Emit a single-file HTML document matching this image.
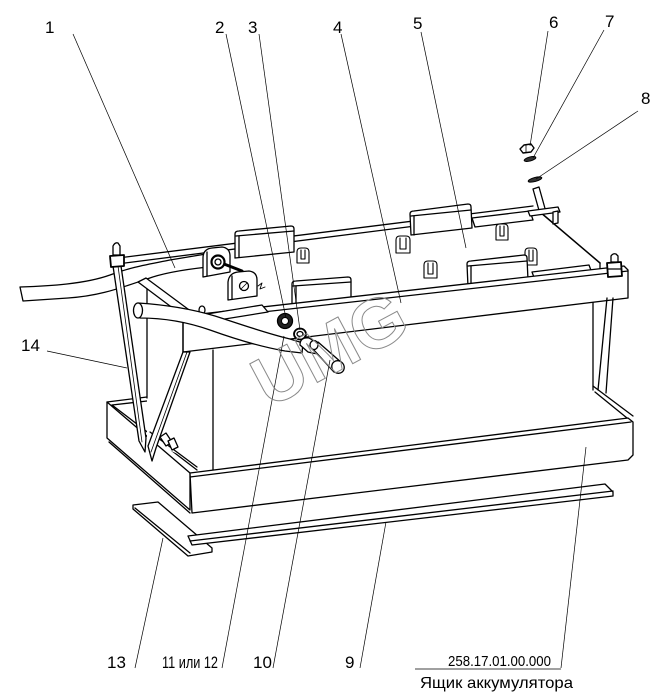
<!DOCTYPE html>
<html><head><meta charset="utf-8"><style>
html,body{margin:0;padding:0;background:#fff}
svg{display:block}
text{font-family:"Liberation Sans","DejaVu Sans",sans-serif;fill:#000}
</style></head><body>
<svg width="665" height="700" viewBox="0 0 665 700" xmlns="http://www.w3.org/2000/svg">
<rect width="665" height="700" fill="#fff"/>
<g fill="#fff" stroke="#000" stroke-width="1.3" stroke-linejoin="round" stroke-linecap="round">

<!-- tray left wall & back -->
<polygon points="107,402 190,473 190,510 107,438"/>
<line x1="107" y1="402" x2="147" y2="397"/>
<line x1="112" y1="405" x2="147" y2="401"/>
<line x1="112" y1="405" x2="197" y2="470"/>
<line x1="109" y1="442" x2="190" y2="513"/>

<!-- battery -->
<polygon points="147,283 213,330 213,470 147,440" stroke="none"/>
<line x1="147" y1="283" x2="147" y2="398"/>
<line x1="150" y1="432" x2="197" y2="467"/>
<polygon points="213,350 593,297 593,420 213,472" stroke="none"/>
<line x1="213" y1="350" x2="213" y2="470"/>
<line x1="593" y1="297" x2="593" y2="390"/>

<!-- back rail -->
<line x1="110" y1="259" x2="533" y2="206"/>
<line x1="117" y1="264" x2="533" y2="211"/>
<!-- right strap -->
<line x1="540" y1="212" x2="600" y2="263" stroke-width="1.5"/>
<line x1="600" y1="263" x2="600" y2="271"/>

<!-- plates on top -->
<polygon points="472,218 530,211 533,220 475,227"/>
<polygon points="532,272 589,265 592,273 535,280"/>

<!-- clips -->
<g stroke-width="1.1">
<path d="M297,263 L297,252 Q297,248 301,248 L305,248 Q309,248 309,252 L309,263 Z"/><path d="M301,250 L301,259 L305,259 L305,250" fill="none"/>
<path d="M396,253 L396,240 Q396,236 400,236 L406,236 Q410,236 410,240 L410,253 Z"/><path d="M400,238 L400,249 L406,249 L406,238" fill="none"/>
<path d="M424,278 L424,265 Q424,261 428,261 L433,261 Q437,261 437,265 L437,278 Z"/><path d="M428,263 L428,274 L433,274 L433,263" fill="none"/>
<path d="M496,240 L496,228 Q496,224 500,224 L504,224 Q508,224 508,228 L508,240 Z"/><path d="M500,226 L500,236 L504,236 L504,226" fill="none"/>
<path d="M525,265 L525,252 Q525,248 529,248 L533,248 Q537,248 537,252 L537,265 Z"/><path d="M529,250 L529,261 L533,261 L533,250" fill="none"/>
</g>

<!-- boxes -->
<path d="M235,258 L235,234 Q235,231 239,231 L291,226 Q294,226 294,229 L294,252 Z"/>
<line x1="236" y1="236" x2="294" y2="231"/><line x1="239" y1="236" x2="239" y2="257"/>
<path d="M292,307 L292,284 Q292,281 296,281 L348,277 Q351,277 351,280 L351,302 Z"/>
<line x1="293" y1="286" x2="351" y2="282"/><line x1="296" y1="286" x2="296" y2="306"/>
<path d="M411,235 L410,214 Q410,211 414,211 L468,204 Q471,204 471,207 L472,228 Z"/>
<line x1="411" y1="216" x2="471" y2="210"/><line x1="414" y1="216" x2="414" y2="235"/>
<path d="M468,287 L467,264 Q467,261 471,261 L524,255 Q527,255 527,258 L528,280 Z"/>
<line x1="468" y1="266" x2="527" y2="261"/><line x1="471" y1="266" x2="471" y2="286"/>

<!-- right bracket & stud -->
<polygon points="533,189 539,187 546,212 540,214"/>
<polygon points="528,211 558,207 560,212 530,216"/>
<polygon points="553,212 558,211 558,223 553,224"/>

<!-- front bar -->
<polygon points="183,316 624,266 628,270 628,298 183,352"/>
<line x1="183" y1="321" x2="628" y2="271"/>
<line x1="183" y1="316" x2="183" y2="352"/>

<!-- right nut -->
<path d="M611,262 L611,256 Q613,253 616,254 L618,256 L618,262 Z"/>
<polygon points="607,263 621,262 622,276 608,277" stroke-width="1.8"/>
<line x1="608" y1="269" x2="621" y2="269"/>

<!-- right rod -->
<line x1="607" y1="298" x2="598" y2="390"/>
<line x1="613" y1="298" x2="606" y2="393"/>

<!-- tray front -->
<polygon points="190,473 628,418 633,422 633,455 628,460 192,513"/>
<line x1="190" y1="477" x2="631" y2="422"/>
<line x1="593" y1="386" x2="633" y2="416"/>
<line x1="595" y1="392" x2="627" y2="418"/>

<!-- top tube 1 -->
<path d="M20,287 C50,286 85,284 110,275 C128,268 145,265 170,260 L206,254 L208,267 C180,270 160,274 147,279 C120,288 100,296 68,298 L23,301 Z"/>

<!-- rod 14 -->
<polygon points="113,266 121,266 146,438 145,452 139,441"/>
<line x1="118" y1="266" x2="142" y2="442" stroke-width="0.8"/>
<!-- nut top of rod 14 -->
<path d="M113,255 L113,246 Q115,242 118,243 L120,246 L120,255 Z"/>
<polygon points="110,256 124,255 124,266 111,267" stroke-width="1.8"/>

<!-- brace -->
<polygon points="138,282 146,278 200,318 194,324"/>

<!-- leg rod -->
<polygon points="183,352 190,352 156,448 152,461 148,446"/>
<line x1="187" y1="352" x2="151" y2="452" stroke-width="0.8"/>
<!-- small bolt at tray -->
<polygon points="160,437 166,433 172,442 166,446"/>
<polygon points="168,441 174,438 178,447 172,450"/>

<!-- bracket under tube -->
<polygon points="195,316 262,305 268,312 200,323"/>
<ellipse cx="202" cy="310" rx="3" ry="4"/>

<!-- clamps -->
<path d="M203,277 L203,258 Q203,249 212,248 L222,247 Q230,248 230,256 L230,272 Z"/>
<line x1="207" y1="252" x2="207" y2="276"/>
<line x1="224" y1="264" x2="242" y2="271" stroke-width="3"/>
<circle cx="218" cy="262" r="6.5" stroke-width="2.2"/>
<circle cx="218" cy="262" r="3"/>
<path d="M228,300 L228,282 Q229,273 238,272 L249,271 Q257,272 257,280 L257,296 Z"/>
<line x1="232" y1="276" x2="232" y2="299"/>
<circle cx="244" cy="286" r="4.5"/>
<line x1="241" y1="289" x2="247" y2="283" stroke-width="0.8"/>
<path d="M258,286 L262,283 L260,289 L265,287" fill="none" stroke-width="0.9"/>

<!-- lower tube -->
<path d="M138,303 C170,305 195,310 215,316 C240,324 265,333 290,339 L303,343 L302,353 L285,351 C262,347 235,339 210,330 C190,323 165,318 140,318 Z"/>
<ellipse cx="138" cy="310.5" rx="4.5" ry="7.5"/>

<!-- nut 2 -->
<circle cx="285" cy="321" r="7.5" fill="#222" stroke-width="1.3"/>
<circle cx="285" cy="321" r="3.5" fill="#fff" stroke-width="1"/>
<!-- washer 3 -->
<ellipse cx="300" cy="334" rx="6" ry="5.5" stroke-width="1.8"/>
<ellipse cx="300" cy="334" rx="3" ry="2.5"/>
<!-- part 10 -->
<path d="M300,345 Q300,337 309,338 L322,346 Q328,350 322,354 Q315,354 308,352 Z"/>
<polygon points="311,347 318,342 342,363 334,372"/>
<ellipse cx="314" cy="345" rx="4" ry="4.5"/>
<ellipse cx="338" cy="367" rx="6" ry="6.5" transform="rotate(-40 338 367)"/>

<!-- plate 13 -->
<polygon points="133,505 158,502 212,548 212,552 188,556 133,509"/>
<line x1="135" y1="508" x2="190" y2="553"/>
<!-- plate 9 -->
<polygon points="188,536 605,484 613,492 613,496 192,545"/>
<line x1="190" y1="541" x2="613" y2="491"/>

<!-- parts 6,7,8 -->
<polygon points="520,149 524,145 531,144 534,148 531,152 523,153" stroke-width="1.4"/>
<line x1="526" y1="145" x2="526" y2="152" stroke-width="0.8"/>
<ellipse cx="530" cy="159" rx="6" ry="2" transform="rotate(-15 530 159)" fill="#333" stroke-width="1"/>
<ellipse cx="535" cy="179.5" rx="7" ry="2" transform="rotate(-15 535 179.5)" fill="#333" stroke-width="1"/>
</g>

<!-- leaders -->
<g stroke="#000" stroke-width="0.7" fill="none">
<line x1="73" y1="34" x2="175" y2="268"/>
<line x1="226" y1="34" x2="286" y2="318"/>
<line x1="259" y1="34" x2="300" y2="330"/>
<line x1="341" y1="34" x2="401" y2="303"/>
<line x1="421" y1="32" x2="466" y2="248"/>
<line x1="548" y1="31" x2="530" y2="146"/>
<line x1="604" y1="30" x2="533" y2="158"/>
<line x1="638" y1="111" x2="536" y2="179"/>
<line x1="47" y1="351" x2="127" y2="368"/>
<line x1="135" y1="668" x2="163" y2="538"/>
<line x1="222" y1="668" x2="284" y2="336"/>
<line x1="273" y1="668" x2="330" y2="360"/>
<line x1="360" y1="668" x2="386" y2="522"/>
<line x1="561" y1="668" x2="586" y2="447"/>
<line x1="415" y1="669" x2="561" y2="669"/>
</g>

<!-- watermark -->
<text x="0" y="25" text-anchor="middle" transform="translate(329,348) rotate(-28)" font-size="70" font-weight="bold" style="fill:none;stroke:#8a8a8a;stroke-width:1" >UMG</text>

<!-- labels -->
<g font-size="17">
<text x="45" y="33">1</text>
<text x="215" y="33">2</text>
<text x="248" y="33">3</text>
<text x="333" y="33">4</text>
<text x="413" y="29">5</text>
<text x="549" y="28">6</text>
<text x="605" y="27">7</text>
<text x="641" y="104">8</text>
<text x="21" y="351">14</text>
<text x="107" y="668">13</text>
<text x="162" y="668" textLength="56" lengthAdjust="spacingAndGlyphs">11 или 12</text>
<text x="253" y="668">10</text>
<text x="345" y="668">9</text>
</g>
<text x="448" y="666" font-size="15" textLength="103" lengthAdjust="spacingAndGlyphs">258.17.01.00.000</text>
<text x="420" y="688" font-size="16" textLength="153" lengthAdjust="spacingAndGlyphs">Ящик аккумулятора</text>
</svg>
</body></html>
